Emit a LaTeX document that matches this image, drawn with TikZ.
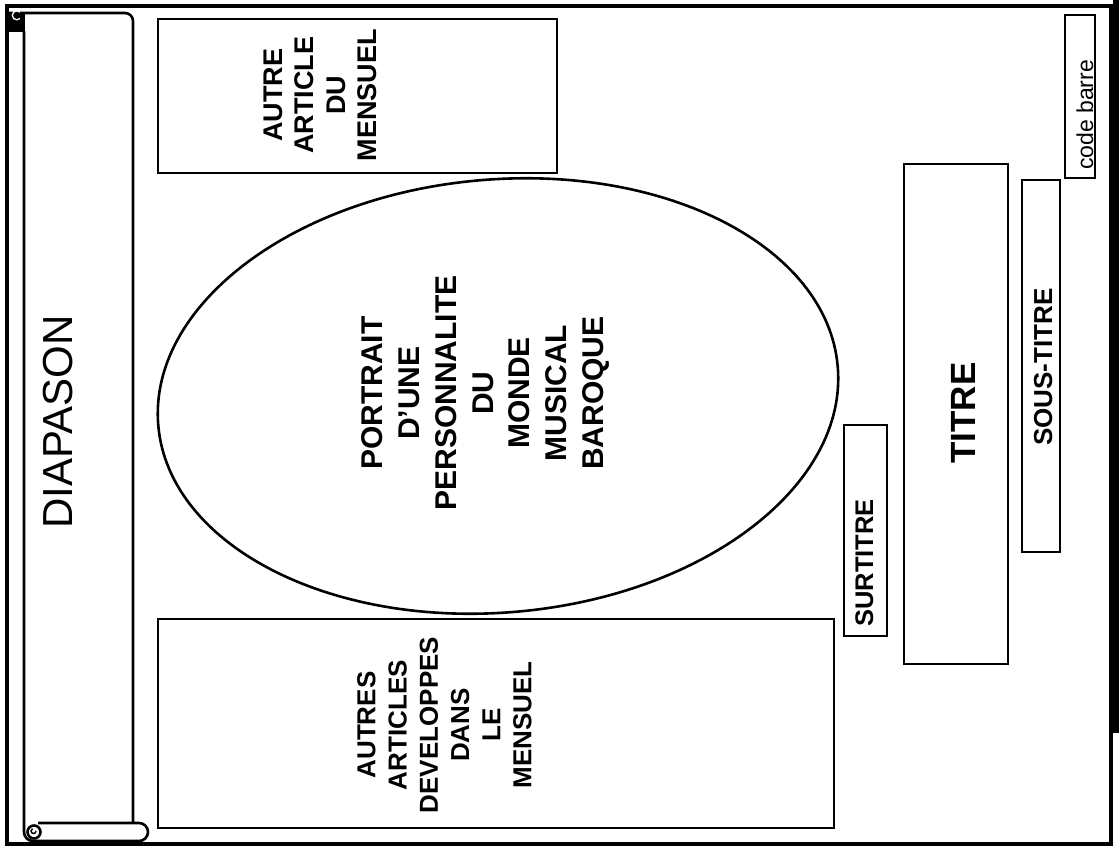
\documentclass[tikz,border=0pt]{standalone}
\usepackage{fontspec}
\setmainfont{Liberation Sans}
\usetikzlibrary{shapes.geometric}
\begin{document}
\begin{tikzpicture}[x=1pt,y=-1pt,
  box/.style={draw, line width=2.4pt, inner sep=0pt},
  frameline/.style={line width=4pt},
  scrollline/.style={line width=2.6pt},
  blocktext/.style={rotate=90, align=center, inner sep=0pt, font=\bfseries\fontsize{27}{31.5}\selectfont},
  onetext/.style={rotate=90, anchor=base, inner sep=0pt}
]
\useasboundingbox (0,0) rectangle (1119,847);
\fill[white] (0,0) rectangle (1119,847);

% outer frame
\node[draw, frameline, inner sep=0pt, minimum width=1104pt, minimum height=838pt] (frame) at (559,425) {};
\fill[black] (1113,0) rectangle (1119,733);

% scroll (DIAPASON band)
\draw[scrollline, rounded corners=8pt] (7,13) -- (133,13) -- (133,823);
\draw[scrollline, rounded corners=9pt] (24,31) -- (24,841) -- (148,841) -- (148,823) -- (38,823);
\fill[black] (8,13) rectangle (25,32);
\draw[white, line width=1.3pt] (20,18.5) arc[start angle=45, end angle=315, radius=4.5];
\draw[scrollline, fill=white] (34,832) circle (6.5);
\draw[line width=1.4pt] (36,831) arc[start angle=0, end angle=250, radius=2.5];
\node[onetext, font=\fontsize{42}{50}\selectfont] (diapason) at (72,422) {DIAPASON};

% boxes
\node[box, minimum width=399pt, minimum height=154pt] (autre) at (357.5,96) {};
\node[box, minimum width=676pt, minimum height=209pt] (autres) at (496,723.5) {};
\node[box, minimum width=43pt, minimum height=211pt] (surtitre) at (865.5,530.5) {};
\node[box, minimum width=104pt, minimum height=500pt] (titre) at (956,414) {};
\node[box, minimum width=38pt, minimum height=372pt] (soustitre) at (1041,366) {};
\node[box, minimum width=30pt, minimum height=163pt] (code) at (1080,96.5) {};

% ellipse
\node[draw, ellipse, line width=2.6pt, inner sep=0pt, minimum width=682pt, minimum height=433pt, rotate=5] (portrait) at (498,396) {};

% texts
\node[blocktext] (autretxt) at (320.5,95) {AUTRE\\ARTICLE\\DU\\MENSUEL};
\node[blocktext, font=\bfseries\fontsize{30}{36.8}\selectfont] (portraittxt) at (485.5,393) {PORTRAIT\\D'UNE\\PERSONNALITE\\DU\\MONDE\\MUSICAL\\BAROQUE};
\node[blocktext, font=\bfseries\fontsize{26}{31.2}\selectfont] (autrestxt) at (444.5,725) {AUTRES\\ARTICLES\\DEVELOPPES\\DANS\\LE\\MENSUEL};
\node[onetext, font=\bfseries\fontsize{35}{42}\selectfont] (titretxt) at (975,413) {TITRE};
\node[onetext, font=\bfseries\fontsize{25.5}{30}\selectfont] (surtitretxt) at (873,563) {SURTITRE};
\node[onetext, font=\bfseries\fontsize{26}{30}\selectfont] (soustitretxt) at (1052,367) {SOUS-TITRE};
\node[onetext, font=\fontsize{23}{28}\selectfont] (codetxt) at (1093,115) {code barre};
\end{tikzpicture}
\end{document}
